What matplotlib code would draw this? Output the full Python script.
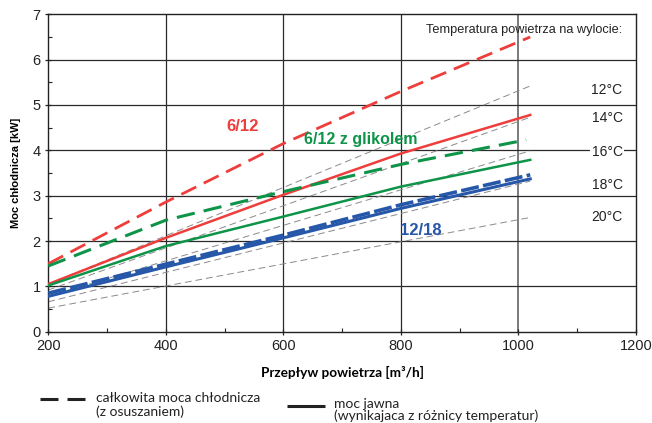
import matplotlib
matplotlib.use("Agg")
import matplotlib.pyplot as plt
from matplotlib.lines import Line2D

# Air flow [m3/h] sample points for the cooler curves
flow = [200, 400, 600, 800, 1020]
flow_glycol = [200, 400, 600, 800, 1013]

# Cooling power [kW]
red_total = [1.50, 2.86, 4.15, 5.30, 6.50]       # 6/12, total (with dehumidification)
red_sensible = [1.05, 2.07, 3.02, 3.93, 4.78]    # 6/12, sensible
green_total = [1.45, 2.46, 3.09, 3.69, 4.23]     # 6/12 glycol, total
green_sensible = [1.02, 1.89, 2.54, 3.20, 3.79]  # 6/12 glycol, sensible
blue_total = [0.85, 1.49, 2.13, 2.80, 3.46]      # 12/18, total
blue_sensible = [0.78, 1.43, 2.07, 2.72, 3.37]   # 12/18, sensible

# Outlet air temperature reference lines
temp_labels = ["12°C", "14°C", "16°C", "18°C", "20°C"]
temp_flow = [200, 1020]
temp_lines = [
    [1.05, 5.42],
    [0.92, 4.73],
    [0.78, 3.99],
    [0.66, 3.32],
    [0.52, 2.52],
]
temp_label_y = [5.34, 4.72, 3.97, 3.24, 2.53]

x_ticks = [200, 400, 600, 800, 1000, 1200]
y_ticks = [0, 1, 2, 3, 4, 5, 6, 7]

RED = "#EE3E3C"
GREEN = "#0E9448"
BLUE = "#2657A8"

fig = plt.figure(figsize=(6.52, 4.23), dpi=100)
ax = fig.add_axes([0.0741, 0.2158, 0.9014, 0.7504])

ax.set_xlim(200, 1200)
ax.set_ylim(0, 7)

# grid
for xv in [400, 600, 800]:
    ax.axvline(xv, color="#2b2b2b", lw=0.9, zorder=1)
ax.axvline(1000, color="#7a7a7a", lw=1.4, zorder=1)
for yv in [1, 2, 3, 4, 5, 6]:
    ax.axhline(yv, color="#2b2b2b", lw=0.9, zorder=1)

# temperature reference lines
for vals in temp_lines:
    ax.plot(temp_flow, vals, color="#8a8a8a", lw=0.7, dashes=(7, 4), zorder=2)

# cooler curves
ax.plot(flow, red_total, color=RED, lw=2.0, dashes=(6, 3), zorder=4)
ax.plot(flow, red_sensible, color=RED, lw=1.8, zorder=4)
ax.plot(flow_glycol, green_total, color=GREEN, lw=2.2, dashes=(6, 3), zorder=4)
ax.plot(flow, green_sensible, color=GREEN, lw=1.8, zorder=4)
ax.plot(flow, blue_total, color=BLUE, lw=2.6, dashes=(5, 1.2), zorder=4)
ax.plot(flow, blue_sensible, color=BLUE, lw=2.2, zorder=4)

# series labels
ax.text(531, 4.52, "6/12", color=RED, fontsize=12, fontweight="bold",
        ha="center", va="center", family="Liberation Sans", zorder=5)
ax.text(732, 4.23, "6/12 z glikolem", color=GREEN, fontsize=11.5, fontweight="bold",
        ha="center", va="center", family="Liberation Sans", zorder=5)
ax.text(834, 2.24, "12/18", color=BLUE, fontsize=12, fontweight="bold",
        ha="center", va="center", family="Liberation Sans", zorder=5)

# outlet temperature labels
ax.text(1177, 6.65, "Temperatura powietrza na wylocie:", fontsize=9.2,
        ha="right", va="center", family="Liberation Sans", color="#222222", zorder=5)
for lab, yv in zip(temp_labels, temp_label_y):
    ax.text(1177, yv, lab, fontsize=10, ha="right", va="center",
            family="Liberation Sans", color="#222222", zorder=5,
            bbox=dict(facecolor="white", edgecolor="none", pad=1.0))

# axes styling
for sp in ax.spines.values():
    sp.set_color("#222222")
    sp.set_linewidth(1.0)
ax.set_xticks(x_ticks)
ax.set_yticks(y_ticks)
ax.set_xticks([300, 500, 700, 900, 1100], minor=True)
ax.set_yticks([0.5, 1.5, 2.5, 3.5, 4.5, 5.5, 6.5], minor=True)
ax.tick_params(which="major", direction="inout", length=5, width=0.9,
               labelsize=10.5, colors="#222222", pad=3)
ax.tick_params(which="minor", direction="in", length=3, width=0.8, colors="#222222")
for lab in ax.get_xticklabels() + ax.get_yticklabels():
    lab.set_family("Liberation Sans")

ax.set_ylabel("Moc chłodnicza [kW]", fontsize=8, fontweight="bold",
              family="Liberation Sans", labelpad=8)
ax.set_xlabel("Przepływ powietrza [m³/h]", fontsize=9.8, fontweight="bold",
              family="Lato", labelpad=9)

# legend below the plot: dashed key drawn as two short strokes
ly = 1 - 399 / 423
for x0, x1 in [(40, 58), (67, 85)]:
    fig.add_artist(Line2D([x0 / 652, x1 / 652], [ly, ly], color="#222222",
                          lw=2.2, solid_capstyle="butt"))
fig.text(96 / 652, 1 - 398 / 423, "całkowita moca chłodnicza", fontsize=10,
         family="Lato", va="center", ha="left", color="#222222")
fig.text(96 / 652, 1 - 412 / 423, "(z osuszaniem)", fontsize=10,
         family="Lato", va="center", ha="left", color="#222222")
fig.add_artist(Line2D([287 / 652, 325 / 652], [1 - 406 / 423] * 2, color="#222222",
                      lw=2.2, solid_capstyle="butt"))
fig.text(334 / 652, 1 - 404 / 423, "moc jawna", fontsize=10,
         family="Lato", va="center", ha="left", color="#222222")
fig.text(334 / 652, 1 - 416 / 423, "(wynikajaca z różnicy temperatur)", fontsize=10,
         family="Lato", va="center", ha="left", color="#222222")

fig.savefig("out.png", dpi=100)
